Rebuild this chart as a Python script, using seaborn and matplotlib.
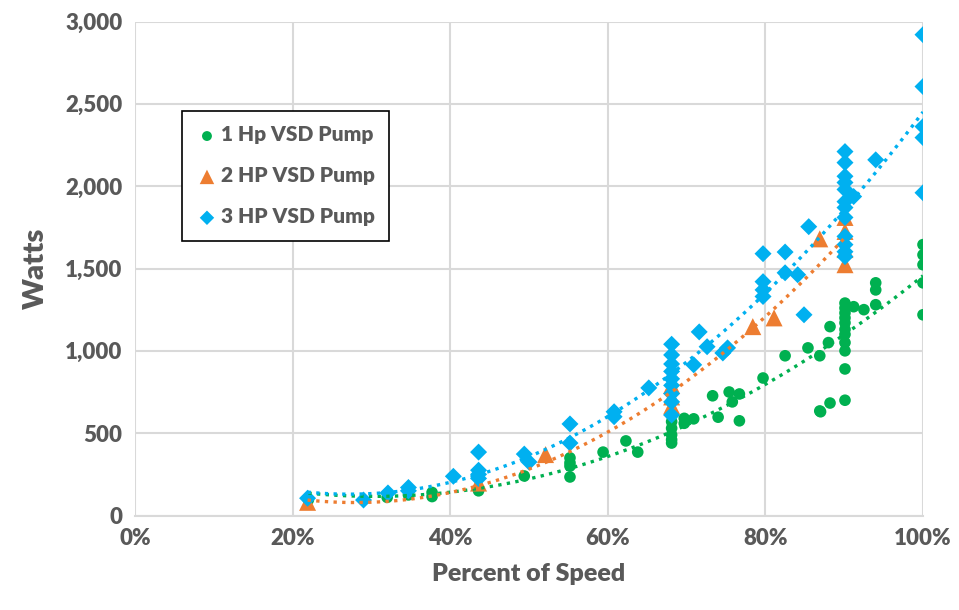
import numpy as np
import pandas as pd
import matplotlib
matplotlib.use("Agg")
import matplotlib.pyplot as plt
import seaborn as sns
from matplotlib.ticker import PercentFormatter, FuncFormatter

# ---- data (percent of speed, watts) ----
hp1_x = [22, 32, 34.7, 37.7, 37.7, 43.6, 49.4, 55.2, 55.2, 55.2, 55.2, 59.4, 62.3, 63.8,
         68.1, 68.1, 68.1, 68.1, 68.1, 68.1, 69.7, 69.7, 70.9, 73.3, 74.0, 75.4, 75.8,
         76.7, 76.7, 79.7, 82.5, 85.4, 86.9, 86.9, 88.2, 88.2, 88.0, 87.0,
         90.1, 90.1, 90.1, 90.1, 90.1, 90.1, 90.1, 90.1, 90.1, 90.1, 90.1,
         91.2, 92.5, 94, 94, 94, 100, 100, 100, 100, 100]
hp1_y = [95, 110, 125, 115, 140, 150, 240, 350, 320, 300, 234, 385, 453, 385,
         610, 570, 530, 490, 460, 440, 590, 560, 587, 727, 597, 750, 690,
         738, 575, 835, 970, 1018, 970, 635, 1147, 683, 1050, 630,
         1290, 1260, 1230, 1200, 1170, 1130, 1100, 1050, 1000, 890, 700,
         1268, 1250, 1413, 1370, 1280, 1645, 1583, 1523, 1413, 1219]

hp2_x = [21.9, 43.6, 52.1, 68.1, 68.1, 68.1, 78.4, 81.1, 86.9, 90.1, 90.1, 90.1, 90.1]
hp2_y = [80, 197, 370, 790, 720, 665, 1147, 1200, 1680, 1810, 1725, 1615, 1523]

hp3_x = [21.9, 29, 32.1, 34.7, 34.7, 40.4, 43.6, 43.6, 43.6, 43.6, 49.4, 50.0, 55.2, 55.2,
         60.8, 60.8, 65.2, 68.1, 68.1, 68.1, 68.1, 68.1, 68.1, 68.1, 68.1, 68.1,
         70.9, 71.6, 72.6, 74.6, 75.2, 79.7, 79.7, 79.7, 79.7, 82.5, 82.5, 84.1, 84.9, 85.5,
         90.1, 90.1, 90.1, 90.1, 90.1, 90.1, 90.1, 90.1, 90.1, 90.1, 90.1, 90.1,
         91.2, 94.0, 100, 100, 100, 100, 100]
hp3_y = [105, 94, 137, 170, 150, 238, 385, 275, 250, 225, 373, 325, 556, 440,
         630, 600, 775, 1040, 975, 920, 875, 830, 790, 740, 690, 610,
         915, 1115, 1025, 987, 1018, 1590, 1420, 1370, 1330, 1600, 1474, 1462, 1219, 1754,
         2210, 2143, 2060, 2022, 1980, 1906, 1870, 1810, 1695, 1645, 1602, 1572,
         1937, 2160, 2920, 2605, 2362, 2295, 1960]

labels = ["1 Hp VSD Pump", "2 HP VSD Pump", "3 HP VSD Pump"]
x_ticks = [0, 20, 40, 60, 80, 100]
y_ticks = [0, 500, 1000, 1500, 2000, 2500, 3000]

GREEN, ORANGE, BLUE = "#00B050", "#ED7D31", "#00B0F0"
TXT = "#595959"
GRID = "#D9D9D9"

sns.set_theme(style="white")
plt.rcParams["font.family"] = ["Lato", "DejaVu Sans"]

fig = plt.figure(figsize=(9.59, 6.10), dpi=100)
ax = fig.add_axes([135 / 959, 1 - 515.5 / 610, 788 / 959, 494 / 610])

series = [
    (hp1_x, hp1_y, GREEN, "o", 70, labels[0]),
    (hp2_x, hp2_y, ORANGE, "^", 150, labels[1]),
    (hp3_x, hp3_y, BLUE, "D", 75, labels[2]),
]

for i, (xs, ys, col, mk, sz, lab) in enumerate(series):
    sns.scatterplot(x=xs, y=ys, ax=ax, color=col, marker=mk, s=sz,
                    edgecolor="none", linewidth=0, label=lab, zorder=3 + i)

for xs, ys, col, mk, sz, lab in series:
    sns.regplot(x=np.array(xs), y=np.array(ys), ax=ax, order=2, ci=None,
                scatter=False, color=col, truncate=True,
                line_kws=dict(ls=(0, (1, 1.6)), lw=2.4, zorder=10))

ax.set_xlim(0, 100)
ax.set_ylim(0, 3000)
ax.set_xticks(x_ticks)
ax.set_yticks(y_ticks)
ax.xaxis.set_major_formatter(PercentFormatter(xmax=100, decimals=0))
ax.yaxis.set_major_formatter(FuncFormatter(lambda v, p: f"{int(v):,}"))
ax.grid(True, color=GRID, lw=1.5, zorder=0)
ax.set_axisbelow(True)
for s in ["top", "right", "left"]:
    ax.spines[s].set_visible(False)
ax.spines["bottom"].set_color(GRID)
ax.spines["bottom"].set_linewidth(1.5)
ax.tick_params(axis="both", length=0, colors=TXT, labelsize=16, pad=9)
for t in ax.get_xticklabels() + ax.get_yticklabels():
    t.set_fontweight("heavy")
    t.set_color(TXT)

ax.set_xlabel("Percent of Speed", fontsize=18, fontweight="heavy", color=TXT, labelpad=10)
ax.set_ylabel("Watts", fontsize=21, fontweight="heavy", color=TXT, labelpad=12)

leg = ax.legend(loc="upper left", bbox_to_anchor=(0.0596, 0.819), frameon=True,
                fancybox=False, edgecolor="black", framealpha=1,
                prop=dict(weight="heavy", size=15), labelcolor=TXT,
                handletextpad=0.15, labelspacing=1.05, borderpad=0.7,
                handlelength=1.0, markerscale=0.85, borderaxespad=0)
leg.get_frame().set_linewidth(1.2)
leg.set_zorder(20)

fig.savefig("out.png", dpi=100)
